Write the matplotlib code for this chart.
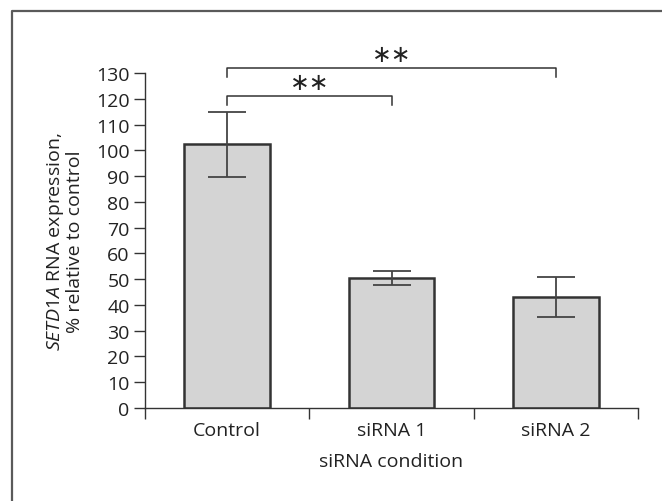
import matplotlib
matplotlib.use("Agg")
import matplotlib.pyplot as plt
from matplotlib.lines import Line2D

categories = ["Control", "siRNA 1", "siRNA 2"]
means = [102.5, 50.5, 43.0]
err_upper = [115.0, 53.2, 50.8]
err_lower = [89.7, 47.6, 35.3]
yticks = list(range(0, 131, 10))
xlabel = "siRNA condition"
brackets = [(0, 1, 121.0, 117.5, "\u2217\u2217"), (0, 2, 132.0, 128.3, "\u2217\u2217")]

plt.rcParams['font.family'] = ['Open Sans', 'DejaVu Sans']
plt.rcParams['mathtext.fontset'] = 'custom'
plt.rcParams['mathtext.it'] = 'Open Sans:italic'
plt.rcParams['mathtext.rm'] = 'Open Sans'

dark = '#333333'
fs = 14
fig = plt.figure(figsize=(6.62, 5.02), dpi=100)
ax = fig.add_axes([145/662, 1-409/502, 493/662, 335/502])

x = list(range(len(categories)))
yerr = [[m - l for m, l in zip(means, err_lower)], [u - m for m, u in zip(means, err_upper)]]
ax.bar(x, means, width=0.52, color='#d4d4d4', edgecolor=dark, linewidth=1.8, zorder=2)
ax.errorbar(x, means, yerr=yerr, fmt='none', ecolor='#444444', elinewidth=1.3,
            capsize=14, capthick=1.3, zorder=3)

ax.set_xlim(-0.5, 2.5)
ax.set_ylim(0, 130)
ax.set_yticks(yticks)
ax.set_yticklabels([str(t) for t in yticks], fontsize=fs, color='#222222')
ax.set_xticks([-0.5, 0.5, 1.5, 2.5])
ax.set_xticklabels([])
ax.set_xticks(x, minor=True)
ax.set_xticklabels(categories, minor=True, fontsize=fs, color='#222222')
ax.tick_params(axis='x', which='major', direction='out', length=8, width=1, color=dark)
ax.tick_params(axis='x', which='minor', length=0, pad=9)
ax.tick_params(axis='y', direction='out', length=8, width=1, color=dark, pad=3)
for s in ['top', 'right']:
    ax.spines[s].set_visible(False)
for s in ['left', 'bottom']:
    ax.spines[s].set_color(dark)
    ax.spines[s].set_linewidth(1.0)
ax.set_xlabel(xlabel, fontsize=fs, color='#222222', labelpad=10)

for a, b, ytop, ydrop, lab in brackets:
    ax.plot([a, a, b, b], [ydrop, ytop, ytop, ydrop], color=dark, lw=1.1, clip_on=False)
    ax.text((a + b) / 2, ytop + 0.8, lab, ha='center', va='bottom', fontsize=17,
            family='DejaVu Sans', color='#222222', clip_on=False)

fig.text(65/662, 1-242/502, "$\\mathit{SETD1A}$ RNA expression,\n% relative to control",
         rotation=90, ha='center', va='center', multialignment='center',
         fontsize=fs, color='#222222', linespacing=1.0)

fig.add_artist(Line2D([12/662, 12/662, 1.0], [0.0, 1-12/502, 1-12/502],
                      transform=fig.transFigure, color='#5a5a5a', lw=1.6))

fig.savefig("out.png", dpi=100)
